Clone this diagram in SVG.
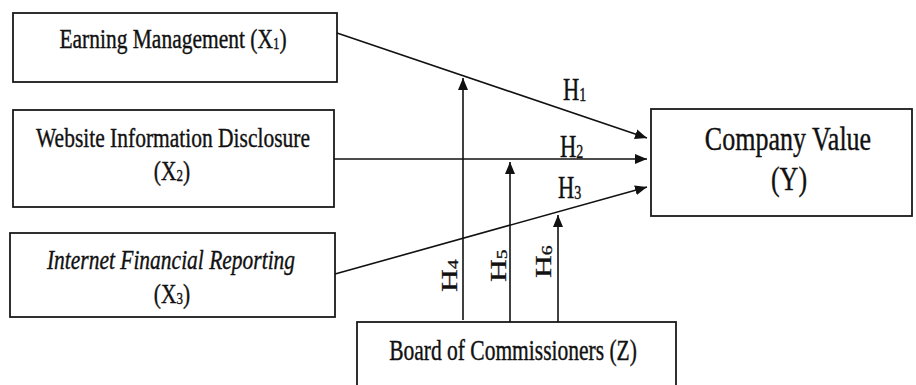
<svg xmlns="http://www.w3.org/2000/svg" width="916" height="385" viewBox="0 0 916 385">
<style>
.box{fill:#fff;stroke:#1a1a1a;stroke-width:1.8}
.t{font-family:"Liberation Serif","Times New Roman",serif;font-size:21.5px;fill:#111;stroke:#111;stroke-width:0.3;text-anchor:middle}
.big{font-size:26px}
.h{font-family:"Liberation Serif","Times New Roman",serif;font-size:22.5px;fill:#111;stroke:#111;stroke-width:0.3}
.c{stroke:#111;stroke-width:1.6;fill:none;marker-end:url(#ah)}
</style>
<defs>
<marker id="ah" viewBox="0 0 12 10" refX="12" refY="5" markerWidth="12" markerHeight="10" markerUnits="userSpaceOnUse" orient="auto">
<path d="M0,0 L12,5 L0,10 Z" fill="#111"/>
</marker>
</defs>
<rect width="916" height="385" fill="#fff"/>
<g id="x1">
<rect class="box" x="13" y="13" width="324" height="69"/>
<text class="t" transform="translate(173,48) scale(1,1.32)">Earning Management (X<tspan font-size="13" dy="1">1</tspan><tspan dy="-1">)</tspan></text>
</g>
<g id="x2">
<rect class="box" x="13" y="110" width="321" height="97"/>
<text class="t" transform="translate(173,147) scale(1,1.32)">Website Information Disclosure</text>
<text class="t" transform="translate(172,180) scale(1,1.32)">(X<tspan font-size="13" dy="1">2</tspan><tspan dy="-1">)</tspan></text>
</g>
<g id="x3">
<rect class="box" x="10" y="233" width="325" height="84"/>
<text class="t" font-style="italic" transform="translate(171,269) scale(1,1.32)">Internet Financial Reporting</text>
<text class="t" transform="translate(172,303) scale(1,1.32)">(X<tspan font-size="13" dy="1">3</tspan><tspan dy="-1">)</tspan></text>
</g>
<g id="y">
<rect class="box" x="651" y="109" width="261" height="107"/>
<text class="t big" transform="translate(788,150) scale(1,1.26)">Company Value</text>
<text class="t big" transform="translate(789,190) scale(1,1.26)">(Y)</text>
</g>
<g id="z">
<rect class="box" x="357" y="322" width="319" height="70"/>
<text class="t" transform="translate(513,360) scale(1,1.35)">Board of Commissioners (Z)</text>
</g>
<g id="connectors">
<line class="c" x1="337" y1="33" x2="647" y2="138"/>
<line class="c" x1="334" y1="159" x2="647" y2="159"/>
<line class="c" x1="335" y1="274" x2="647" y2="187"/>
<line class="c" x1="463" y1="320" x2="463" y2="78"/>
<line class="c" x1="510" y1="322" x2="510" y2="162"/>
<line class="c" x1="558" y1="322" x2="558" y2="215"/>
</g>
<g id="labels">
<text class="h" transform="translate(563,100) scale(1,1.4)">H<tspan font-size="14" dy="1">1</tspan></text>
<text class="h" transform="translate(560,157) scale(1,1.4)">H<tspan font-size="14" dy="1">2</tspan></text>
<text class="h" transform="translate(558,198) scale(1,1.4)">H<tspan font-size="14" dy="1">3</tspan></text>
<text class="h" transform="translate(457,292) scale(1,1.4) rotate(-90)">H<tspan font-size="14" dy="1">4</tspan></text>
<text class="h" transform="translate(506,282) scale(1,1.4) rotate(-90)">H<tspan font-size="14" dy="1">5</tspan></text>
<text class="h" transform="translate(551,278) scale(1,1.4) rotate(-90)">H<tspan font-size="14" dy="1">6</tspan></text>
</g>
</svg>
